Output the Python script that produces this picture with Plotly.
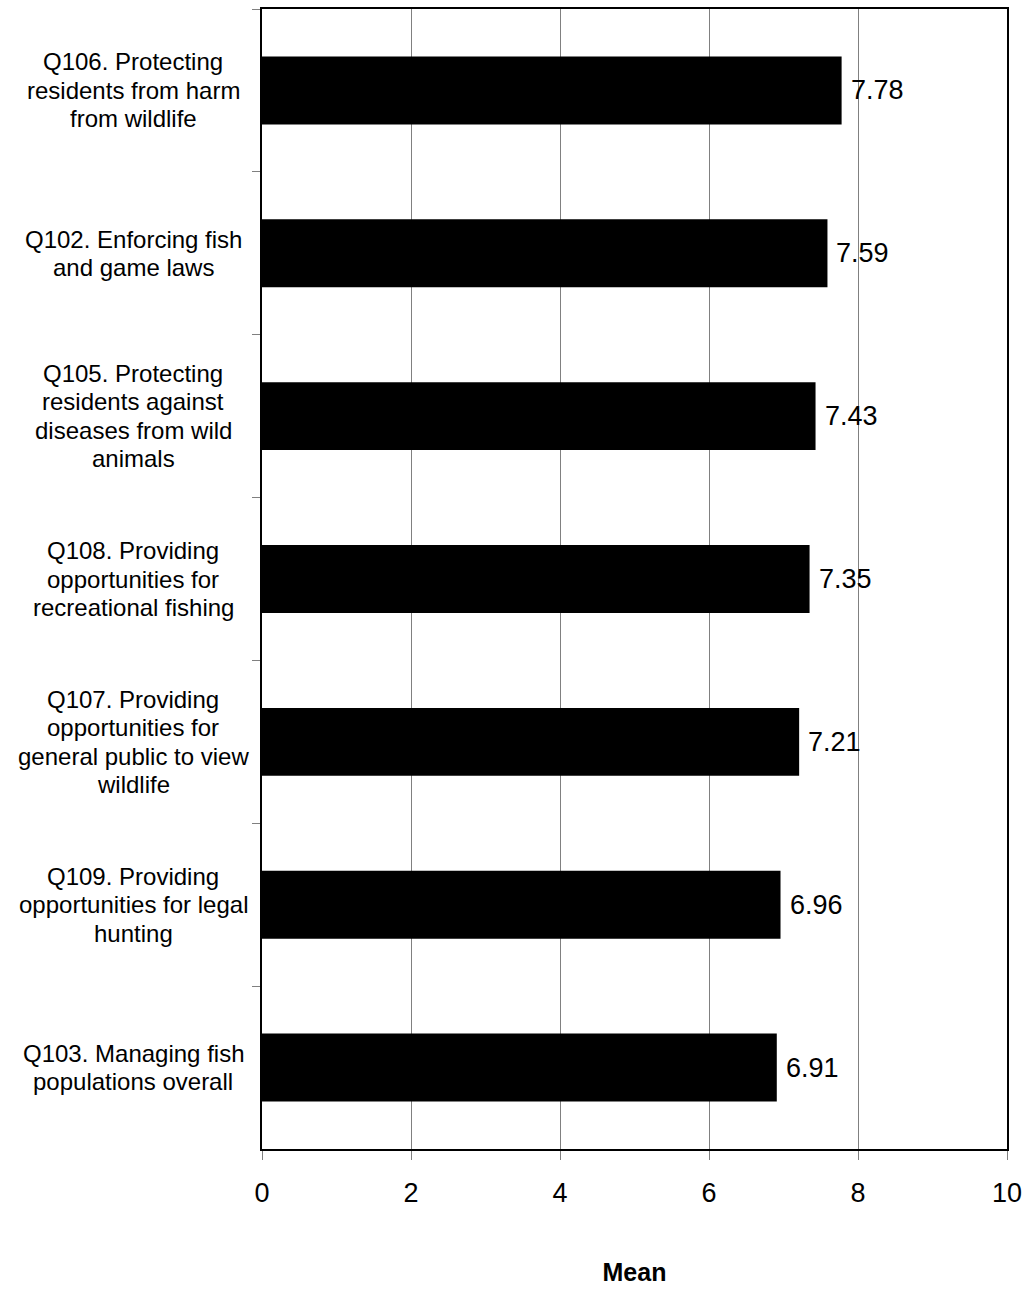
import plotly.graph_objects as go

categories = [
    "Q106. Protecting<br>residents from harm<br>from wildlife",
    "Q102. Enforcing fish<br>and game laws",
    "Q105. Protecting<br>residents against<br>diseases from wild<br>animals",
    "Q108. Providing<br>opportunities for<br>recreational fishing",
    "Q107. Providing<br>opportunities for<br>general public to view<br>wildlife",
    "Q109. Providing<br>opportunities for legal<br>hunting",
    "Q103. Managing fish<br>populations overall",
]
means = [7.78, 7.59, 7.43, 7.35, 7.21, 6.96, 6.91]
x_ticks = [0, 2, 4, 6, 8, 10]

FONT = "Arial, 'Liberation Sans', sans-serif"
LABEL_SIZE = 24
LINE_H = 28.5

fig = go.Figure()
fig.add_trace(go.Bar(
    x=means, y=categories, orientation="h",
    marker=dict(color="black", line=dict(width=0)),
    width=0.417,
    cliponaxis=False,
    hoverinfo="x+y",
))

W, H = 1029, 1289
ml, mr, mt, mb = 262, 21, 7, 139
plot_w = W - ml - mr

# category labels, centred, one annotation per line for tighter line spacing
for c in categories:
    lines = c.split("<br>")
    n = len(lines)
    for i, ln in enumerate(lines):
        fig.add_annotation(
            x=-129 / plot_w, xref="paper", y=c, yref="y",
            text=ln, showarrow=False, xanchor="center", yanchor="middle",
            yshift=((n - 1) / 2 - i) * LINE_H,
            font=dict(size=LABEL_SIZE, color="black", family=FONT),
        )

# value labels
for c, v in zip(categories, means):
    fig.add_annotation(
        x=v, xref="x", y=c, yref="y", text=f"{v:.2f}",
        showarrow=False, xanchor="left", yanchor="middle", xshift=7,
        font=dict(size=27, color="black", family=FONT),
    )

fig.update_layout(
    width=W, height=H,
    margin=dict(l=ml, r=mr, t=mt, b=mb),
    plot_bgcolor="white", paper_bgcolor="white",
    showlegend=False,
    font=dict(family=FONT, color="black"),
    xaxis=dict(
        range=[0, 10], tickvals=x_ticks, ticktext=[str(t) for t in x_ticks],
        showgrid=True, gridcolor="#808080", gridwidth=1,
        ticks="outside", ticklen=9, tickcolor="#808080", tickwidth=1,
        tickfont=dict(size=27, family=FONT, color="black"),
        ticklabelstandoff=10,
        showline=True, linecolor="black", linewidth=2, mirror=True,
        zeroline=False,
        title=dict(text="<b>Mean</b>", font=dict(size=25, family=FONT, color="black"), standoff=56),
    ),
    yaxis=dict(
        categoryorder="array", categoryarray=categories,
        autorange="reversed",
        showticklabels=False,
        ticks="outside", ticklen=8, tickcolor="#808080", tickwidth=1,
        tickson="boundaries",
        showgrid=False,
        showline=True, linecolor="black", linewidth=2, mirror=True,
    ),
)

fig.write_html(
    "out.html",
    config={"displayModeBar": False},
    post_script="document.body.style.margin='0';document.body.style.padding='0';",
)
